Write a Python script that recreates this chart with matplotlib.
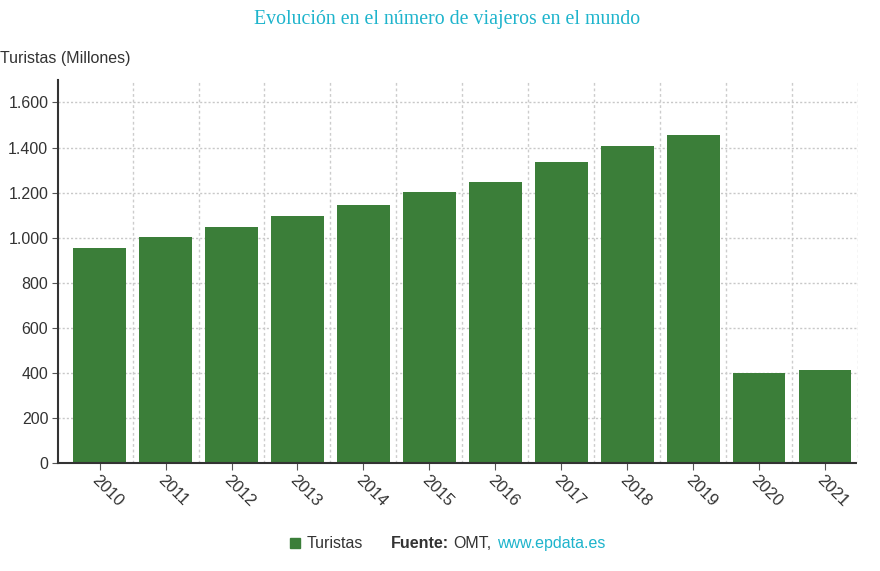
import numpy as np
import matplotlib.pyplot as plt
from matplotlib.patches import Rectangle

# Datos
years = ['2010', '2011', '2012', '2013', '2014', '2015',
         '2016', '2017', '2018', '2019', '2020', '2021']
turistas = [956, 1002, 1048, 1098, 1147, 1204, 1245, 1337, 1409, 1454, 399, 412]
y_ticks = [0, 200, 400, 600, 800, 1000, 1200, 1400, 1600]
y_tick_labels = ['0', '200', '400', '600', '800', '1.000', '1.200', '1.400', '1.600']

green = '#3b7e39'
cyan = '#1eb4cc'
text_col = '#333333'

plt.rcParams['font.family'] = ['Liberation Sans', 'DejaVu Sans']

fig = plt.figure(figsize=(8.8, 5.71), dpi=100)
ax = fig.add_axes([0.066, 0.189, 0.909, 0.671])

x = np.arange(len(years))
ax.bar(x, turistas, width=0.8, color=green, zorder=3)

ax.set_xlim(-0.63, len(years) - 0.5)
ax.set_ylim(0, 1700)

# Rejilla
ax.set_yticks(y_ticks)
ax.set_yticklabels(y_tick_labels, fontsize=11.5, color=text_col)
for v in y_ticks[1:]:
    ax.axhline(v, color='#c8c8c8', linestyle=(0, (1.5, 1.5)), linewidth=1, zorder=1)
for b in np.arange(0.5, len(years), 1.0):
    ax.axvline(b, color='#cccccc', linestyle=(0, (2, 2)), linewidth=1, zorder=1)

ax.set_xticks(x)
ax.set_xticklabels(years, rotation=-45, ha='left', va='top',
                   rotation_mode='anchor', fontsize=12, color=text_col)
ax.tick_params(axis='x', length=5, color='#555555', pad=2)
ax.tick_params(axis='y', length=4, color='#555555', pad=3)

for s in ['top', 'right']:
    ax.spines[s].set_visible(False)
ax.spines['left'].set_color('#333333')
ax.spines['left'].set_linewidth(1.5)
ax.spines['bottom'].set_color('#333333')
ax.spines['bottom'].set_linestyle((0, (1, 1)))
ax.spines['bottom'].set_linewidth(1.5)
ax.spines['bottom'].set_zorder(4)

fig.text(0.0, 0.898, 'Turistas (Millones)', fontsize=11.5, color=text_col,
         ha='left', va='center')

fig.text(0.508, 0.965, 'Evolución en el número de viajeros en el mundo',
         fontsize=14.3, color=cyan, ha='center', va='center',
         family=['Liberation Serif', 'DejaVu Serif'])

# Leyenda y fuente
fig.patches.append(Rectangle((0.3295, 0.041), 0.0115, 0.0175,
                             transform=fig.transFigure, color=green))
fig.text(0.348, 0.049, 'Turistas', fontsize=11.5, color=text_col, va='center')
fig.text(0.4445, 0.049, 'Fuente:', fontsize=11.5, color=text_col,
         va='center', weight='bold')
fig.text(0.5145, 0.049, 'OMT,', fontsize=11.5, color=text_col, va='center')
fig.text(0.5645, 0.049, 'www.epdata.es', fontsize=11.5, color=cyan, va='center')

fig.savefig('out.png', dpi=100)
